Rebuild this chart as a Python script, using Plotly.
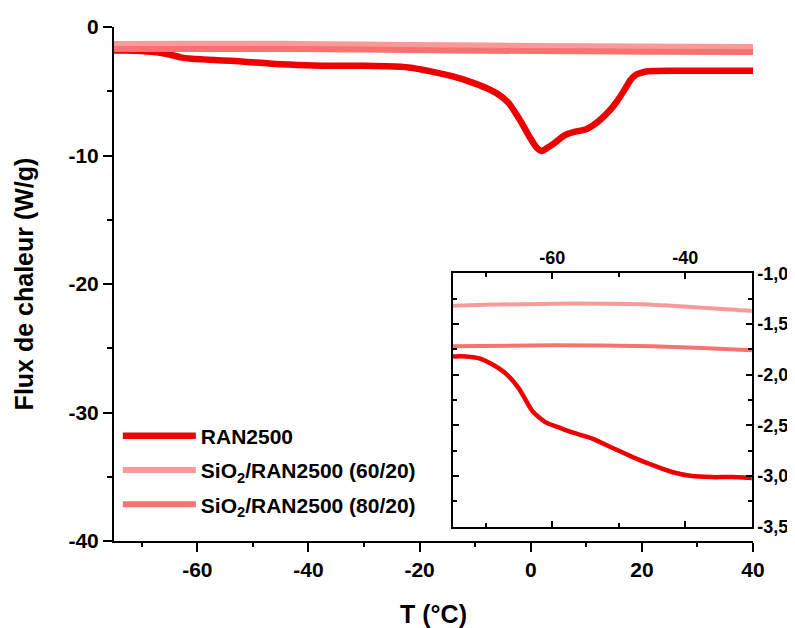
import plotly.graph_objects as go

# ---------------- data ----------------
T_ran = [-75, -73, -71, -69, -67, -65, -63, -61, -59, -57, -54, -51, -48, -45, -42, -39, -36,
         -33, -30, -26, -22, -18, -14, -11, -8, -6, -4, -2, 0, 1, 2, 3, 4.5, 6, 8, 10, 12,
         14, 15.5, 17, 18, 19, 20, 21, 22, 25, 30, 35, 40]
flux_ran = [-1.82, -1.82, -1.84, -1.90, -1.99, -2.14, -2.36, -2.47, -2.52, -2.57, -2.63,
            -2.72, -2.81, -2.89, -2.96, -3.00, -3.01, -3.01, -3.02, -3.06, -3.15, -3.45,
            -3.85, -4.25, -4.75, -5.2, -5.9, -7.2, -8.7, -9.35, -9.65, -9.4, -8.95, -8.45,
            -8.15, -7.95, -7.4, -6.6, -5.8, -4.8, -4.1, -3.7, -3.55, -3.45, -3.42, -3.40,
            -3.40, -3.40, -3.40]

T_sio = [-75, -60, -45, -30, -15, 0, 20, 40]
flux_60 = [-1.32, -1.30, -1.31, -1.37, -1.42, -1.47, -1.52, -1.55]
flux_80 = [-1.72, -1.71, -1.72, -1.76, -1.82, -1.87, -1.92, -1.95]

names = ["RAN2500", "SiO<sub>2</sub>/RAN2500 (60/20)", "SiO<sub>2</sub>/RAN2500 (80/20)"]
colors = ["#EE0000", "#F99A9A", "#F87272"]

main_xticks = [-60, -40, -20, 0, 20, 40]
main_xtext = ["-60", "-40", "-20", "0", "20", "40"]
main_yticks = [0, -10, -20, -30, -40]
main_ytext = ["0", "-10", "-20", "-30", "-40"]
inset_xticks = [-60, -40]
inset_xtext = ["-60", "-40"]
inset_yticks = [-1.0, -1.5, -2.0, -2.5, -3.0, -3.5]
inset_ytext = ["-1,0", "-1,5", "-2,0", "-2,5", "-3,0", "-3,5"]

FONT = "Liberation Sans"

fig = go.Figure()
series = [(T_ran, flux_ran), (T_sio, flux_60), (T_sio, flux_80)]
main_w = [6.5, 6, 6]
inset_w = [4.5, 4, 4]
for i, (x, y) in enumerate(series):
    fig.add_trace(go.Scatter(x=x, y=y, mode="lines", name=names[i],
                             line=dict(color=colors[i], width=main_w[i], shape="spline", smoothing=0.6),
                             legendgroup=f"g{i}", xaxis="x", yaxis="y"))
for i, (x, y) in enumerate(series):
    fig.add_trace(go.Scatter(x=x, y=y, mode="lines", name=names[i], showlegend=False,
                             line=dict(color=colors[i], width=inset_w[i], shape="spline", smoothing=0.6),
                             xaxis="x2", yaxis="y2"))

axfont = dict(family=FONT, size=21, color="black", weight="bold")
insfont = dict(family=FONT, size=18, color="black", weight="bold")
titlefont = dict(family=FONT, size=25, color="black", weight="bold")

# page body has an 8px margin, so the figure is 8px smaller than the window
fig.update_layout(
    width=787, height=620,
    margin=dict(l=106, r=42, t=19, b=87, autoexpand=False),
    paper_bgcolor="white", plot_bgcolor="white",
    font=dict(family=FONT, color="black"),
    showlegend=True,
    legend=dict(x=0.006, y=0.244, xanchor="left", yanchor="top",
                bgcolor="rgba(0,0,0,0)", font=dict(family=FONT, size=21, color="black", weight="bold"),
                tracegroupgap=4, itemwidth=73),
    xaxis=dict(domain=[0, 1], range=[-75, 40], showgrid=False, zeroline=False, automargin=False,
               showline=True, linecolor="black", linewidth=2,
               ticks="outside", ticklen=9, tickwidth=2, tickcolor="black",
               tickvals=main_xticks, ticktext=main_xtext, tickfont=axfont,
               minor=dict(dtick=10, tick0=-70, ticks="outside", ticklen=4, tickwidth=2, tickcolor="black"),
               title=dict(text="T (°C)", font=titlefont, standoff=27)),
    yaxis=dict(domain=[0, 1], range=[-40, 0], showgrid=False, zeroline=False, automargin=False,
               showline=True, linecolor="black", linewidth=2,
               ticks="outside", ticklen=9, tickwidth=2, tickcolor="black",
               tickvals=main_yticks, ticktext=main_ytext, tickfont=axfont,
               minor=dict(dtick=5, tick0=-35, ticks="outside", ticklen=5, tickwidth=2, tickcolor="black"),
               title=dict(text="Flux de chaleur (W/g)", font=titlefont, standoff=28)),
    xaxis2=dict(domain=[0.530, 0.998], anchor="y2", side="top", range=[-75, -30], automargin=False,
                showgrid=False, zeroline=False, showline=True, mirror="ticks",
                linecolor="black", linewidth=2,
                ticks="inside", ticklen=6, tickwidth=2, tickcolor="black",
                tickvals=inset_xticks, ticktext=inset_xtext, tickfont=insfont,
                minor=dict(dtick=10, tick0=-70, ticks="inside", ticklen=4, tickwidth=2, tickcolor="black")),
    yaxis2=dict(domain=[0.0276, 0.521], anchor="x2", side="right", range=[-3.5, -1.0], automargin=False,
                showgrid=False, zeroline=False, showline=True, mirror="ticks",
                linecolor="black", linewidth=2,
                ticks="inside", ticklen=6, tickwidth=2, tickcolor="black",
                tickvals=inset_yticks, ticktext=inset_ytext, tickfont=insfont,
                minor=dict(dtick=0.25, tick0=-3.25, ticks="inside", ticklen=4, tickwidth=2, tickcolor="black")),
)

fig.add_shape(type="rect", xref="x2 domain", yref="y2 domain", x0=0, x1=1, y0=0, y1=1,
              line=dict(width=0), fillcolor="white", layer="below")

fig.write_html("out.html")
